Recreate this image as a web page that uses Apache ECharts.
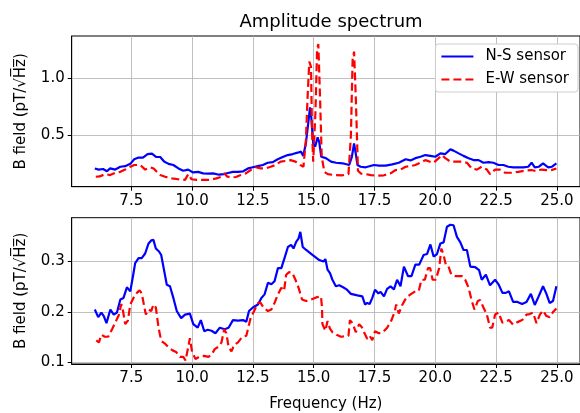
<!DOCTYPE html>
<html>
<head>
<meta charset="utf-8">
<script src="https://cdn.jsdelivr.net/npm/echarts@6/dist/echarts.min.js"></script>
<style>
  html, body { margin: 0; padding: 0; background: #fff; }
  #chart { width: 580px; height: 413px; }
</style>
</head>
<body>
<div id="chart"></div>
<script>
var seriesNames = ['N-S sensor', 'E-W sensor'];
var xTicks = [7.5, 10, 12.5, 15, 17.5, 20, 22.5, 25];
var yTicksTop = [0.5, 1.0];
var yTicksBottom = [0.1, 0.2, 0.3];

// top panel, N-S sensor [Hz, pT/sqrt(Hz)]
var nsTop = [[6.0,0.21],[6.16,0.2],[6.34,0.205],[6.5,0.185],[6.63,0.21],[6.84,0.2],[7.05,0.225],[7.25,0.23],[7.46,0.25],[7.62,0.29],[7.8,0.305],[7.98,0.305],[8.17,0.335],[8.35,0.34],[8.53,0.31],[8.69,0.31],[8.85,0.27],[9.03,0.25],[9.23,0.24],[9.44,0.21],[9.64,0.19],[9.84,0.2],[10.04,0.175],[10.25,0.18],[10.45,0.167],[10.66,0.165],[10.86,0.167],[11.11,0.155],[11.3,0.16],[11.48,0.17],[11.68,0.18],[11.89,0.18],[12.1,0.185],[12.3,0.21],[12.5,0.22],[12.7,0.23],[12.91,0.24],[13.11,0.26],[13.32,0.265],[13.52,0.29],[13.73,0.31],[13.93,0.327],[14.14,0.336],[14.34,0.348],[14.48,0.357],[14.57,0.32],[14.68,0.43],[14.79,0.634],[14.85,0.745],[14.9,0.66],[14.98,0.43],[15.06,0.4],[15.16,0.482],[15.23,0.44],[15.31,0.312],[15.5,0.3],[15.71,0.27],[15.92,0.26],[16.19,0.255],[16.46,0.24],[16.57,0.312],[16.66,0.43],[16.73,0.34],[16.8,0.24],[16.93,0.225],[17.14,0.22],[17.48,0.24],[17.68,0.235],[17.96,0.235],[18.23,0.245],[18.5,0.26],[18.78,0.29],[18.98,0.28],[19.18,0.3],[19.39,0.312],[19.59,0.327],[19.8,0.32],[20.0,0.312],[20.21,0.342],[20.41,0.336],[20.62,0.377],[20.75,0.366],[20.96,0.342],[21.16,0.32],[21.37,0.3],[21.57,0.283],[21.78,0.283],[21.98,0.26],[22.19,0.265],[22.39,0.26],[22.6,0.24],[22.8,0.24],[23.0,0.225],[23.21,0.22],[23.41,0.22],[23.62,0.22],[23.82,0.225],[23.96,0.26],[24.09,0.22],[24.26,0.225],[24.43,0.255],[24.64,0.22],[24.8,0.225],[24.98,0.255]];

// top panel, E-W sensor
var ewTop = [[6.04,0.137],[6.2,0.14],[6.43,0.16],[6.63,0.152],[6.84,0.172],[7.05,0.18],[7.25,0.2],[7.46,0.225],[7.62,0.24],[7.87,0.24],[8.07,0.2],[8.28,0.22],[8.42,0.21],[8.55,0.18],[8.69,0.152],[8.89,0.137],[9.17,0.123],[9.44,0.115],[9.71,0.11],[9.84,0.16],[9.98,0.115],[10.18,0.11],[10.45,0.11],[10.73,0.11],[11.0,0.123],[11.2,0.137],[11.34,0.167],[11.43,0.14],[11.6,0.13],[11.8,0.135],[12.0,0.152],[12.21,0.167],[12.41,0.196],[12.62,0.22],[12.82,0.21],[13.02,0.21],[13.23,0.225],[13.43,0.24],[13.64,0.27],[13.84,0.275],[14.05,0.283],[14.25,0.27],[14.45,0.24],[14.58,0.225],[14.68,0.46],[14.75,0.84],[14.82,1.146],[14.89,1.1],[14.93,0.547],[14.98,0.27],[15.07,0.69],[15.14,1.248],[15.19,1.3],[15.26,0.84],[15.33,0.312],[15.44,0.18],[15.58,0.16],[15.85,0.152],[16.19,0.15],[16.43,0.16],[16.53,0.5],[16.6,1.16],[16.66,1.233],[16.73,0.84],[16.82,0.19],[16.94,0.165],[17.14,0.16],[17.35,0.152],[17.62,0.146],[17.89,0.15],[18.16,0.167],[18.37,0.196],[18.57,0.2],[18.78,0.225],[18.98,0.23],[19.18,0.24],[19.39,0.26],[19.59,0.283],[19.76,0.27],[19.93,0.26],[20.14,0.3],[20.27,0.327],[20.41,0.3],[20.62,0.27],[20.82,0.27],[21.1,0.27],[21.3,0.26],[21.5,0.21],[21.71,0.2],[21.91,0.225],[22.12,0.2],[22.25,0.16],[22.46,0.2],[22.66,0.2],[22.87,0.172],[23.14,0.172],[23.41,0.18],[23.68,0.19],[23.96,0.196],[24.16,0.185],[24.36,0.2],[24.57,0.195],[24.77,0.195],[24.98,0.21]];

// bottom panel, N-S sensor
var nsBottom = [[6.0,0.205],[6.14,0.19],[6.27,0.199],[6.37,0.192],[6.48,0.178],[6.64,0.205],[6.78,0.195],[6.91,0.199],[7.05,0.225],[7.18,0.228],[7.32,0.249],[7.46,0.241],[7.59,0.277],[7.66,0.297],[7.8,0.307],[7.93,0.307],[8.07,0.316],[8.21,0.336],[8.32,0.342],[8.41,0.343],[8.51,0.326],[8.64,0.32],[8.73,0.313],[8.82,0.29],[8.96,0.254],[9.09,0.251],[9.23,0.228],[9.37,0.202],[9.55,0.188],[9.71,0.195],[9.91,0.197],[10.05,0.176],[10.23,0.169],[10.36,0.184],[10.5,0.162],[10.64,0.165],[10.8,0.163],[10.96,0.158],[11.14,0.169],[11.34,0.166],[11.5,0.169],[11.68,0.184],[11.89,0.183],[12.09,0.184],[12.23,0.181],[12.34,0.202],[12.5,0.209],[12.71,0.215],[12.85,0.228],[12.98,0.235],[13.12,0.258],[13.26,0.255],[13.39,0.261],[13.53,0.287],[13.67,0.287],[13.8,0.307],[13.94,0.329],[14.07,0.333],[14.17,0.326],[14.28,0.339],[14.38,0.346],[14.45,0.359],[14.55,0.329],[14.69,0.323],[14.96,0.313],[15.23,0.303],[15.4,0.3],[15.48,0.305],[15.57,0.284],[15.67,0.277],[15.77,0.264],[15.91,0.251],[16.05,0.253],[16.21,0.249],[16.35,0.245],[16.53,0.236],[16.8,0.233],[17.0,0.231],[17.11,0.215],[17.2,0.218],[17.3,0.216],[17.41,0.228],[17.52,0.244],[17.66,0.237],[17.75,0.24],[17.89,0.231],[18.02,0.246],[18.16,0.251],[18.3,0.245],[18.43,0.264],[18.57,0.251],[18.71,0.29],[18.88,0.271],[19.02,0.271],[19.18,0.294],[19.34,0.294],[19.52,0.313],[19.66,0.315],[19.8,0.334],[19.93,0.31],[20.07,0.315],[20.21,0.336],[20.34,0.338],[20.48,0.369],[20.62,0.373],[20.75,0.372],[20.89,0.349],[21.03,0.338],[21.16,0.323],[21.3,0.323],[21.44,0.29],[21.64,0.289],[21.8,0.283],[21.91,0.264],[22.08,0.274],[22.25,0.253],[22.46,0.264],[22.6,0.255],[22.76,0.238],[22.9,0.238],[23.03,0.241],[23.2,0.22],[23.38,0.22],[23.57,0.216],[23.75,0.22],[23.93,0.236],[24.09,0.214],[24.25,0.231],[24.43,0.251],[24.57,0.236],[24.7,0.218],[24.84,0.222],[24.98,0.251]];

// bottom panel, E-W sensor
var ewBottom = [[6.06,0.144],[6.17,0.14],[6.27,0.155],[6.41,0.151],[6.55,0.151],[6.71,0.166],[6.87,0.182],[6.98,0.193],[7.09,0.216],[7.16,0.202],[7.25,0.176],[7.36,0.183],[7.46,0.215],[7.59,0.228],[7.73,0.238],[7.84,0.243],[7.93,0.237],[8.04,0.209],[8.1,0.195],[8.21,0.205],[8.32,0.202],[8.41,0.215],[8.51,0.209],[8.62,0.169],[8.73,0.143],[8.87,0.138],[9.03,0.13],[9.2,0.124],[9.34,0.121],[9.5,0.111],[9.64,0.111],[9.73,0.104],[9.84,0.13],[9.91,0.148],[10.0,0.121],[10.14,0.107],[10.32,0.112],[10.5,0.113],[10.67,0.111],[10.8,0.116],[10.94,0.127],[11.08,0.131],[11.21,0.14],[11.32,0.166],[11.41,0.158],[11.5,0.131],[11.62,0.122],[11.73,0.135],[11.89,0.14],[12.05,0.15],[12.23,0.153],[12.41,0.189],[12.55,0.202],[12.71,0.218],[12.8,0.219],[12.94,0.209],[13.12,0.202],[13.26,0.205],[13.39,0.218],[13.53,0.235],[13.67,0.248],[13.78,0.242],[13.87,0.274],[13.98,0.279],[14.12,0.278],[14.25,0.264],[14.38,0.248],[14.52,0.225],[14.69,0.222],[14.9,0.225],[15.1,0.229],[15.3,0.231],[15.34,0.21],[15.36,0.176],[15.48,0.163],[15.57,0.182],[15.67,0.167],[15.77,0.16],[15.94,0.155],[16.12,0.151],[16.3,0.152],[16.43,0.153],[16.49,0.184],[16.6,0.178],[16.73,0.16],[16.87,0.176],[16.98,0.17],[17.07,0.16],[17.2,0.147],[17.3,0.153],[17.41,0.144],[17.52,0.162],[17.68,0.158],[17.85,0.16],[18.02,0.169],[18.2,0.184],[18.34,0.202],[18.39,0.215],[18.5,0.197],[18.64,0.214],[18.8,0.228],[18.98,0.235],[19.18,0.241],[19.32,0.242],[19.43,0.264],[19.57,0.264],[19.7,0.287],[19.79,0.287],[19.89,0.264],[20.02,0.264],[20.16,0.287],[20.25,0.326],[20.34,0.313],[20.43,0.294],[20.53,0.292],[20.66,0.274],[20.85,0.271],[21.1,0.271],[21.23,0.264],[21.37,0.248],[21.5,0.222],[21.61,0.205],[21.75,0.222],[21.84,0.224],[21.98,0.209],[22.12,0.195],[22.25,0.169],[22.34,0.169],[22.46,0.195],[22.6,0.199],[22.76,0.179],[22.9,0.181],[23.03,0.184],[23.2,0.175],[23.38,0.18],[23.57,0.184],[23.75,0.195],[23.88,0.196],[24.02,0.199],[24.16,0.178],[24.3,0.195],[24.43,0.203],[24.57,0.192],[24.7,0.19],[24.84,0.2],[24.98,0.207]];

var font = 'DejaVu Sans';
var yName = 'B field (pT/\u221aH\u0305z\u0305)';

function xAxisFor(gridIndex, name) {
  return {
    type: 'value',
    gridIndex: gridIndex,
    min: 5.05,
    max: 25.95,
    name: name,
    nameLocation: 'middle',
    nameGap: 33,
    nameTextStyle: { fontFamily: font, fontSize: 15, color: '#000' },
    axisLine: { onZero: false, lineStyle: { color: '#000', width: 1 } },
    axisTick: { customValues: xTicks, length: 4, lineStyle: { color: '#000' } },
    axisLabel: {
      customValues: xTicks,
      margin: 7,
      fontFamily: font, fontSize: 15, color: '#000',
      formatter: function (v) { return v.toFixed(1); }
    },
    splitLine: { show: true, lineStyle: { color: '#b0b0b0', width: 0.8 } }
  };
}

function yAxisFor(gridIndex, min, max, ticks) {
  return {
    type: 'value',
    gridIndex: gridIndex,
    min: min,
    max: max,
    name: yName,
    nameLocation: 'middle',
    nameRotate: 90,
    nameGap: 43,
    nameTextStyle: { fontFamily: font, fontSize: 15, color: '#000' },
    axisLine: { show: true, lineStyle: { color: '#000', width: 1 } },
    axisTick: { show: true, customValues: ticks, length: 4, lineStyle: { color: '#000' } },
    axisLabel: {
      customValues: ticks,
      margin: 7,
      fontFamily: font, fontSize: 15, color: '#000',
      formatter: function (v) { return v.toFixed(1); }
    },
    splitLine: { show: true, lineStyle: { color: '#b0b0b0', width: 0.8 } }
  };
}

function lineSeries(name, data, idx, color, dashed) {
  return {
    type: 'line',
    name: name,
    xAxisIndex: idx,
    yAxisIndex: idx,
    data: data,
    showSymbol: false,
    symbol: 'none',
    animation: false,
    lineStyle: { color: color, width: 2.2, type: dashed ? [8, 4] : 'solid' },
    itemStyle: { color: color }
  };
}

var chart = echarts.init(document.getElementById('chart'), null, { renderer: 'canvas' });
chart.setOption({
  animation: false,
  backgroundColor: '#fff',
  title: {
    text: 'Amplitude spectrum',
    left: 326,
    top: 8,
    textAlign: 'center',
    textStyle: { fontFamily: font, fontSize: 18, fontWeight: 'normal', color: '#000' }
  },
  legend: {
    data: seriesNames,
    orient: 'vertical',
    right: 2,
    top: 44,
    padding: [5, 9, 5, 5],
    itemWidth: 32,
    itemHeight: 15,
    itemGap: 8,
    backgroundColor: '#fff',
    borderColor: '#cccccc',
    borderWidth: 1,
    borderRadius: 3,
    itemStyle: { opacity: 0 },
    textStyle: { fontFamily: font, fontSize: 15, color: '#000', padding: [0, 0, 0, 7] }
  },
  grid: [
    { left: 71.7, top: 36, width: 509.3, height: 150.7, show: true, borderColor: '#000', borderWidth: 1 },
    { left: 71.7, top: 217.7, width: 509.3, height: 147.3, show: true, borderColor: '#000', borderWidth: 1 }
  ],
  xAxis: [xAxisFor(0, ''), xAxisFor(1, 'Frequency (Hz)')],
  yAxis: [yAxisFor(0, 0.05, 1.37, yTicksTop), yAxisFor(1, 0.097, 0.387, yTicksBottom)],
  series: [
    lineSeries(seriesNames[0], nsTop, 0, '#0000ff', false),
    lineSeries(seriesNames[1], ewTop, 0, '#ff0000', true),
    lineSeries(seriesNames[0], nsBottom, 1, '#0000ff', false),
    lineSeries(seriesNames[1], ewBottom, 1, '#ff0000', true)
  ]
});
</script>
</body>
</html>
